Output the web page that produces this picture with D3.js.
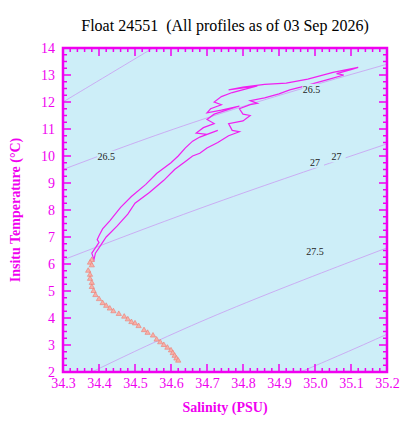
<!DOCTYPE html><html><head><meta charset="utf-8"><script src="https://cdn.jsdelivr.net/npm/d3@7"></script>
<style>body{margin:0;background:#fff}svg text{font-family:"Liberation Serif","Times New Roman","DejaVu Serif",serif !important}</style></head><body><svg id="c" width="414" height="430"></svg><script>
const xTicks=[34.3,34.4,34.5,34.6,34.7,34.8,34.9,35.0,35.1,35.2];
const yTicks=[2,3,4,5,6,7,8,9,10,11,12,13,14];
const profileLine=[[34.385,6.1],[34.39,6.4],[34.40,6.6],[34.41,6.8],[34.42,7.0],[34.45,7.4],[34.48,7.85],[34.50,8.25],[34.54,8.65],[34.58,9.1],[34.61,9.5],[34.64,9.8],[34.66,10.0],[34.68,10.1],[34.70,10.3],[34.73,10.5],[34.76,10.75],[34.79,10.9],[34.77,10.95],[34.76,11.2],[34.80,11.3],[34.82,11.5],[34.80,11.55],[34.79,11.75],[34.82,11.9],[34.84,11.95],[34.82,12.05],[34.86,12.15],[34.90,12.3],[34.93,12.45],[34.96,12.55],[35.0,12.7],[35.04,12.85],[35.08,13.0],[35.06,13.05],[35.10,13.2],[35.12,13.28],[35.05,13.1],[34.98,12.85],[34.92,12.7],[34.86,12.65],[34.80,12.55],[34.76,12.45],[34.84,12.6],[34.77,12.35],[34.74,12.2],[34.72,12.0],[34.74,11.9],[34.71,11.75],[34.70,11.6],[34.74,11.7],[34.79,11.85],[34.72,11.55],[34.70,11.35],[34.72,11.2],[34.69,11.05],[34.67,10.85],[34.70,10.8],[34.73,10.95],[34.68,10.7],[34.66,10.55],[34.64,10.3],[34.62,10.0],[34.60,9.75],[34.56,9.35],[34.53,8.95],[34.49,8.5],[34.46,8.1],[34.43,7.6],[34.41,7.3],[34.40,7.05],[34.395,6.9],[34.40,6.8],[34.39,6.6],[34.38,6.4],[34.385,6.2]];
const profilePoints=[[34.38,6.15],[34.375,6.05],[34.38,5.95],[34.37,5.75],[34.375,5.6],[34.375,5.45],[34.38,5.3],[34.38,5.15],[34.385,5.0],[34.39,4.85],[34.40,4.7],[34.41,4.55],[34.42,4.45],[34.43,4.35],[34.44,4.25],[34.455,4.15],[34.47,4.05],[34.48,3.95],[34.49,3.85],[34.50,3.8],[34.51,3.7],[34.525,3.55],[34.535,3.45],[34.55,3.35],[34.56,3.2],[34.57,3.1],[34.58,3.0],[34.59,2.9],[34.60,2.8],[34.605,2.7],[34.61,2.6],[34.615,2.5],[34.62,2.42]];
const contourLevels=["26","26.5","27","27.5","28"];
const contours=[[[34.3,12.0],[34.45,13.2],[34.55,14.0]],[[34.3,9.5],[34.7,11.5],[35.2,13.4]],[[34.3,6.15],[34.7,8.2],[35.2,10.45]],[[34.38,2.0],[34.7,4.05],[35.2,6.6]],[[34.96,2.0],[35.1,2.8],[35.2,3.4]]];
const contourLabels=[["26.5",34.42,9.97],["26.5",34.99,12.45],["27",35.0,9.75],["27",35.06,9.95],["27.5",35.0,6.45]];
const svg=d3.select("#c");
const m={l:63,r:387,t:48,b:372};
const x=d3.scaleLinear().domain([34.3,35.2]).range([m.l,m.r]);
const y=d3.scaleLinear().domain([2,14]).range([m.b,m.t]);
svg.append("rect").attr("x",m.l).attr("y",m.t).attr("width",m.r-m.l).attr("height",m.b-m.t).attr("fill","#cdeef8");
svg.append("clipPath").attr("id","cp").append("rect").attr("x",m.l).attr("y",m.t).attr("width",m.r-m.l).attr("height",m.b-m.t);
const g=svg.append("g").attr("clip-path","url(#cp)");
const ln=d3.line().x(d=>x(d[0])).y(d=>y(d[1])).curve(d3.curveBasis);
contours.forEach(c=>g.append("path").attr("d",ln(c)).attr("fill","none").attr("stroke","#c890f0").attr("stroke-width",0.7));
contourLabels.forEach(l=>{svg.append("rect").attr("x",x(l[1])-9).attr("y",y(l[2])-6).attr("width",18).attr("height",11).attr("fill","#cdeef8");
svg.append("text").attr("x",x(l[1])).attr("y",y(l[2])+3).attr("text-anchor","middle").attr("font-size",10).attr("fill","#222").text(l[0]);});
g.append("path").attr("d",d3.line().x(d=>x(d[0])).y(d=>y(d[1]))(profileLine)).attr("fill","none").attr("stroke","#f020f0").attr("stroke-width",1.2);
const tri=d3.symbol().type(d3.symbolTriangle).size(12);
g.selectAll(".p").data(profilePoints).join("path").attr("d",tri).attr("transform",d=>`translate(${x(d[0])},${y(d[1])})`).attr("fill","#f7b0a8").attr("stroke","#ec7a70").attr("stroke-width",0.6);
const mag="#f000f0";
const xa=d3.axisBottom(x).tickValues(xTicks).tickSize(0).tickFormat(d3.format(".1f"));
const ax=svg.append("g").attr("transform",`translate(0,${m.b})`).call(xa);
ax.select(".domain").remove();ax.selectAll("text").attr("dy",13).attr("font-size",14).attr("fill",mag);
const ya=d3.axisLeft(y).tickValues(yTicks).tickSize(0);
const ay=svg.append("g").attr("transform",`translate(${m.l},0)`).call(ya);
ay.select(".domain").remove();ay.selectAll("text").attr("dx",-5).attr("dy","0.32em").attr("font-size",14).attr("fill",mag);
const tk=svg.append("g").attr("stroke",mag).attr("stroke-width",1.5);
d3.range(34.3,35.2001,0.02).forEach(v=>{const major=Math.abs(v*10-Math.round(v*10))<1e-6;const L=major?8:4;
tk.append("line").attr("x1",x(v)).attr("x2",x(v)).attr("y1",m.b).attr("y2",m.b-L);tk.append("line").attr("x1",x(v)).attr("x2",x(v)).attr("y1",m.t).attr("y2",m.t+L);});
d3.range(2,14.001,0.25).forEach(v=>{const major=Math.abs(v-Math.round(v))<1e-6;const L=major?8:4;
tk.append("line").attr("y1",y(v)).attr("y2",y(v)).attr("x1",m.l).attr("x2",m.l+L);tk.append("line").attr("y1",y(v)).attr("y2",y(v)).attr("x1",m.r).attr("x2",m.r-L);});
svg.append("rect").attr("x",m.l).attr("y",m.t).attr("width",m.r-m.l).attr("height",m.b-m.t).attr("fill","none").attr("stroke",mag).attr("stroke-width",2.5);
svg.append("text").attr("x",225).attr("y",31).attr("text-anchor","middle").attr("font-size",16).attr("fill","#000").attr("xml:space","preserve").text("Float 24551  (All profiles as of 03 Sep 2026)");
svg.append("text").attr("x",225).attr("y",412).attr("text-anchor","middle").attr("font-size",14).attr("font-weight","bold").attr("fill",mag).text("Salinity (PSU)");
svg.append("text").attr("transform","translate(20,210) rotate(-90)").attr("text-anchor","middle").attr("font-size",14).attr("font-weight","bold").attr("fill",mag).text("Insitu Temperature (°C)");
</script></body></html>
